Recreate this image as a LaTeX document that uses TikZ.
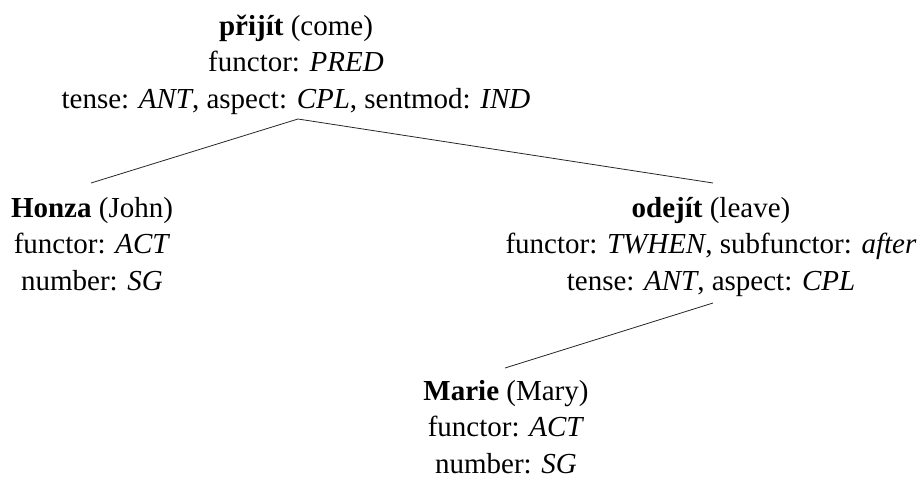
\documentclass[tikz,border=0pt]{standalone}
\usepackage{fontspec}
\setmainfont{Liberation Serif}
\usetikzlibrary{calc}
\newcommand{\tnode}[1]{\begin{tabular}[t]{@{}c@{}}#1\end{tabular}}
\begin{document}
\begin{tikzpicture}[x=1pt,y=-1pt,
  treenode/.style={anchor=base,inner sep=0pt,outer sep=0pt,
    font=\fontsize{29}{36.5}\selectfont},
  edge/.style={line width=0.8pt,black!85}]
\useasboundingbox (0,0) rectangle (921,479);

% dependency tree nodes
\node[treenode] (root) at (296,35) {\tnode{\textbf{přijít} (come)\\
  functor: \textit{PRED}\\
  tense: \textit{ANT}, aspect: \textit{CPL}, sentmod: \textit{IND}}};
\node[treenode] (honza) at (92,217) {\tnode{\textbf{Honza} (John)\\
  functor: \textit{ACT}\\
  number: \textit{SG}}};
\node[treenode] (odejit) at (711,217) {\tnode{\textbf{odejít} (leave)\\
  functor: \textit{TWHEN}, subfunctor: \textit{after}\\
  tense: \textit{ANT}, aspect: \textit{CPL}}};
\node[treenode] (marie) at (506,400) {\tnode{\textbf{Marie} (Mary)\\
  functor: \textit{ACT}\\
  number: \textit{SG}}};

% attachment points of the edges
\coordinate (root-foot) at (298,119);
\coordinate (honza-head) at (91,183);
\coordinate (odejit-head) at (713,183);
\coordinate (odejit-foot) at (713,303);
\coordinate (marie-head) at (505,368);

\draw[edge] (root-foot) -- (honza-head);
\draw[edge] (root-foot) -- (odejit-head);
\draw[edge] (odejit-foot) -- (marie-head);
\end{tikzpicture}
\end{document}
